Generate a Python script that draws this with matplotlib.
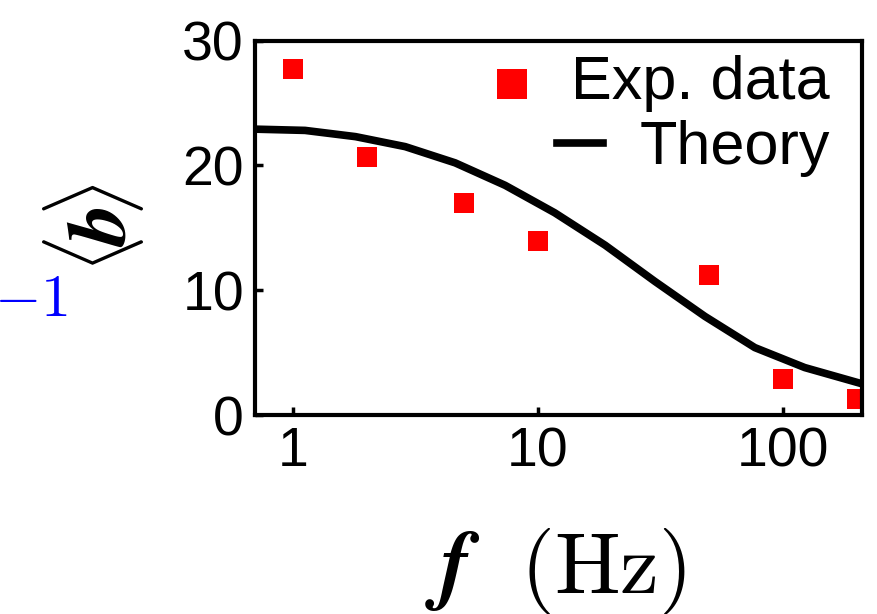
import numpy as np
import matplotlib
matplotlib.use("Agg")
import matplotlib.pyplot as plt

plt.rcParams['font.family'] = ['Liberation Sans', 'DejaVu Sans']
plt.rcParams['mathtext.fontset'] = 'cm'

# measured points
freq = [1, 2, 5, 10, 50, 100, 200]
b_exp = [27.7, 20.7, 17.0, 13.9, 11.2, 2.85, 1.3]

# theory curve
f_th = [0.70, 1.12, 1.8, 2.87, 4.59, 7.34, 11.7, 18.8, 30.0, 48.0, 76.7, 122.6, 210.0]
b_th = [22.9, 22.8, 22.3, 21.5, 20.2, 18.4, 16.2, 13.6, 10.7, 7.9, 5.4, 3.8, 2.5]

xticks = [1, 10, 100]
xticklabels = ["1", "10", "100"]
yticks = [0, 10, 20, 30]

fig = plt.figure(figsize=(8.77, 6.14), dpi=100)
ax = fig.add_axes([0.2908, 0.3241, 0.6921, 0.6099])

pts, = ax.plot(freq, b_exp, 's', color='red', markersize=15, markeredgewidth=0, label='Exp. data')
line, = ax.plot(f_th, b_th, '-', color='black', linewidth=5.5,
                solid_joinstyle='round', label='Theory')

ax.set_xscale('log')
ax.set_xlim(0.70, 210)
ax.set_ylim(0, 30)
ax.set_xticks(xticks, labels=xticklabels)
ax.xaxis.set_minor_locator(matplotlib.ticker.NullLocator())
ax.set_yticks(yticks)

ax.tick_params(axis='both', which='major', direction='in', length=6, width=2.5,
               labelsize=40, pad=8, top=False, right=False)
for s in ax.spines.values():
    s.set_linewidth(3)

ax.set_xlabel(r'$\boldsymbol{f}\ \ (\mathrm{Hz})$', fontsize=63)
ax.xaxis.set_label_coords(0.495, -0.295)
ax.set_ylabel(r'$\langle\!\boldsymbol{b}\!\rangle$', fontsize=60)
ax.yaxis.set_label_coords(-0.18, 0.5)

fig.text(68/877, 1 - 316/614, r'$-1$', color='blue', fontsize=43, ha='right', va='baseline')

# one legend per row so each row sits flush right
leg_kw = dict(frameon=False, fontsize=44, handlelength=0.75, handletextpad=0.6,
              borderaxespad=0, borderpad=0, loc='upper right')
leg1 = ax.legend([pts], ['Exp. data'], bbox_to_anchor=(0.947, 0.961),
                 markerscale=1.4, handleheight=0, **leg_kw)
ax.add_artist(leg1)
ax.legend([line], ['Theory'], bbox_to_anchor=(0.947, 0.788), **leg_kw)

fig.savefig('out.png', dpi=100)
